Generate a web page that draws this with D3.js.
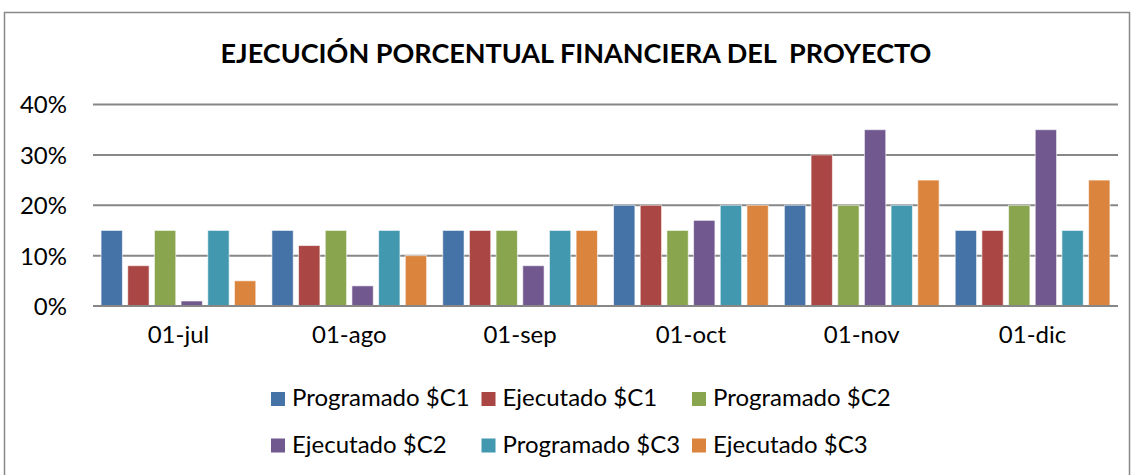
<!DOCTYPE html>
<html>
<head>
<meta charset="utf-8">
<script src="https://cdn.jsdelivr.net/npm/d3@7"></script>
<style>
  html, body { margin: 0; padding: 0; background: #fff; }
  svg { display: block; font-family: Lato, "Open Sans", sans-serif; }
  .grid line { stroke: #878787; stroke-width: 2; }
  .tick text { fill: #000; }
</style>
</head>
<body>
<div id="chart"></div>
<script>
  'use strict';

  var months = ['01-jul', '01-ago', '01-sep', '01-oct', '01-nov', '01-dic'];
  var seriesNames = ['Programado $C1', 'Ejecutado $C1', 'Programado $C2', 'Ejecutado $C2', 'Programado $C3', 'Ejecutado $C3'];
  var seriesColors = ['#4572A7', '#AA4643', '#89A54E', '#71588F', '#4198AF', '#DB843D'];
  // one row per series, one value per month
  var progC1 = [0.15, 0.15, 0.15, 0.20, 0.20, 0.15];
  var ejecC1 = [0.08, 0.12, 0.15, 0.20, 0.30, 0.15];
  var progC2 = [0.15, 0.15, 0.15, 0.15, 0.20, 0.20];
  var ejecC2 = [0.01, 0.04, 0.08, 0.17, 0.35, 0.35];
  var progC3 = [0.15, 0.15, 0.15, 0.20, 0.20, 0.15];
  var ejecC3 = [0.05, 0.10, 0.15, 0.20, 0.25, 0.25];
  var yTicks = [0, 0.1, 0.2, 0.3, 0.4];
  var title = 'EJECUCIÓN PORCENTUAL FINANCIERA DEL\u00a0 PROYECTO';

  var seriesValues = [progC1, ejecC1, progC2, ejecC2, progC3, ejecC3];

  var width = 1134, height = 475;
  var plot = { left: 93, right: 1118, top: 104.5, bottom: 306 };

  var svg = d3.select('#chart').append('svg')
    .attr('width', width).attr('height', height);

  // chart frame
  svg.append('rect')
    .attr('x', 4.5).attr('y', 12.5)
    .attr('width', 1125).attr('height', 470)
    .attr('fill', 'none').attr('stroke', '#888').attr('stroke-width', 1.5);

  svg.append('text')
    .attr('x', 576).attr('y', 63)
    .attr('text-anchor', 'middle')
    .attr('font-weight', 'bold')
    .attr('font-size', 27)
    .text(title);

  var x0 = d3.scaleBand().domain(months)
    .range([plot.left, plot.right])
    .paddingInner(0.063).paddingOuter(0.0316);
  var x1 = d3.scaleBand().domain(d3.range(seriesNames.length))
    .range([0, x0.bandwidth()])
    .paddingInner(0.2).paddingOuter(0.1);
  var y = d3.scaleLinear().domain([0, 0.4]).range([plot.bottom, plot.top]);

  // gridlines
  svg.append('g').attr('class', 'grid')
    .selectAll('line').data(yTicks).enter().append('line')
    .attr('x1', plot.left).attr('x2', plot.right)
    .attr('y1', function(d) { return y(d); })
    .attr('y2', function(d) { return y(d); });

  // y axis labels
  var yAxis = d3.axisLeft(y).tickValues(yTicks).tickFormat(d3.format('.0%')).tickSize(0).tickPadding(26);
  var gy = svg.append('g').attr('transform', 'translate(' + plot.left + ',0)').call(yAxis);
  gy.select('.domain').remove();
  gy.selectAll('text').attr('font-size', 24).attr('font-family', 'Lato, sans-serif').attr('dy', '0.35em');

  // bars
  var groups = svg.append('g').selectAll('g').data(months).enter().append('g')
    .attr('transform', function(d) { return 'translate(' + x0(d) + ',0)'; });

  groups.selectAll('rect').data(function(m, i) {
    return seriesValues.map(function(vals, s) { return { s: s, v: vals[i] }; });
  }).enter().append('rect')
    .attr('x', function(d) { return x1(d.s); })
    .attr('width', x1.bandwidth())
    .attr('y', function(d) { return y(d.v); })
    .attr('height', function(d) { return plot.bottom - y(d.v); })
    .attr('fill', function(d) { return seriesColors[d.s]; })
    .attr('stroke', '#fff').attr('stroke-opacity', 0.6).attr('stroke-width', 1);

  // redraw the baseline over bars
  svg.append('line')
    .attr('x1', plot.left).attr('x2', plot.right)
    .attr('y1', y(0)).attr('y2', y(0))
    .attr('stroke', '#878787').attr('stroke-width', 2);

  // x axis labels
  var xAxis = d3.axisBottom(x0).tickSize(0).tickPadding(20);
  var gx = svg.append('g').attr('transform', 'translate(0,' + plot.bottom + ')').call(xAxis);
  gx.select('.domain').remove();
  gx.selectAll('text').attr('font-size', 24).attr('font-family', 'Lato, sans-serif');

  // legend, 3 columns x 2 rows
  var legend = svg.append('g').selectAll('g').data(seriesNames).enter().append('g')
    .attr('transform', function(d, i) {
      return 'translate(' + (271 + (i % 3) * 210.5) + ',' + (392 + Math.floor(i / 3) * 46.5) + ')';
    });
  legend.append('rect')
    .attr('width', 14).attr('height', 14)
    .attr('fill', function(d, i) { return seriesColors[i]; });
  legend.append('text')
    .attr('x', 21).attr('y', 14)
    .attr('font-size', 24)
    .text(function(d) { return d; });
</script>
</body>
</html>
